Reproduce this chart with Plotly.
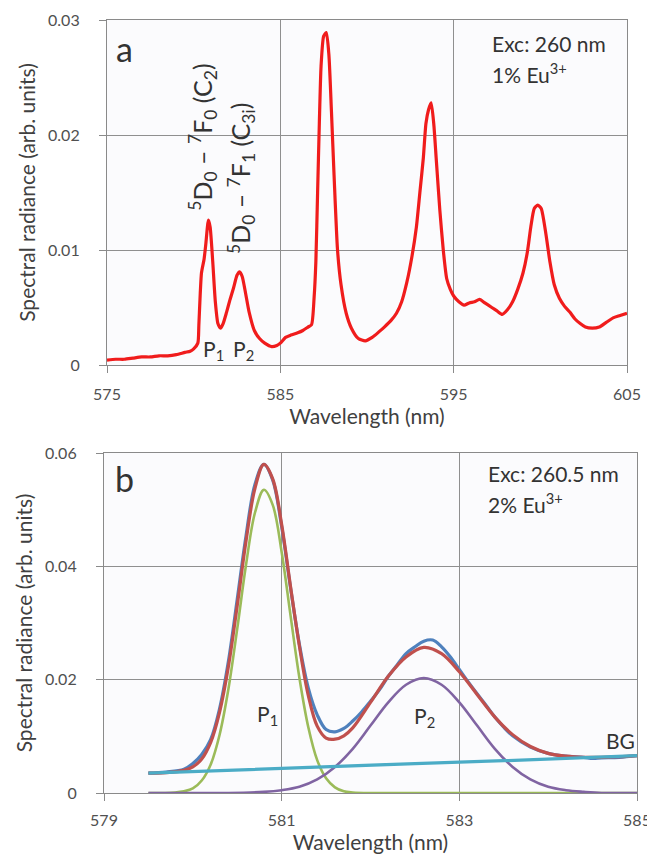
import plotly.graph_objects as go

# ---- Panel a: emission spectrum (1% Eu3+, exc 260 nm) ----
wl_a = [575.0, 575.5, 576.0, 576.5, 577.0, 577.5, 578.0, 578.5, 579.0, 579.5, 579.8, 580.0,
        580.24, 580.3, 580.45, 580.6, 580.7, 580.85, 580.95, 581.1, 581.25, 581.4, 581.55,
        581.7, 581.9, 582.1, 582.3, 582.5, 582.65, 582.8, 583.0, 583.2, 583.5, 583.8, 584.1,
        584.5, 584.8, 585.0, 585.3, 585.6, 586.0, 586.3, 586.6, 586.8, 586.95, 587.05, 587.15,
        587.25, 587.35, 587.5, 587.65, 587.8, 587.95, 588.1, 588.3, 588.5, 588.8, 589.1, 589.5,
        589.9, 590.3, 590.7, 591.0, 591.4, 591.7, 592.0, 592.3, 592.6, 592.85, 593.05, 593.25,
        593.4, 593.55, 593.7, 593.85, 594.0, 594.2, 594.4, 594.6, 594.8, 595.0, 595.3, 595.6,
        595.9, 596.2, 596.5, 596.8, 597.2, 597.5, 597.8, 598.1, 598.4, 598.7, 599.0, 599.25,
        599.45, 599.65, 599.85, 600.05, 600.3, 600.55, 600.8, 601.1, 601.4, 601.7, 602.0,
        602.3, 602.6, 603.0, 603.4, 603.8, 604.2, 604.6, 605.0]
rad_a = [0.00043, 0.0005, 0.0005, 0.0006, 0.0007, 0.0007, 0.0008, 0.0008, 0.0009, 0.0011, 0.0012, 0.0014,
         0.0019, 0.0035, 0.0080, 0.0092, 0.0105, 0.0126, 0.0120, 0.0090, 0.0055, 0.0036, 0.0032,
         0.0036, 0.0046, 0.0057, 0.0067, 0.0078, 0.0081, 0.0077, 0.0062, 0.0046, 0.0030, 0.0023, 0.0019,
         0.0016, 0.0017, 0.0019, 0.0024, 0.0026, 0.0028, 0.0030, 0.0033, 0.0035, 0.0059, 0.0090, 0.0150,
         0.0210, 0.0260, 0.0286, 0.0289, 0.0270, 0.0220, 0.0165, 0.0100, 0.0070, 0.0045, 0.0032, 0.0023,
         0.0021, 0.0024, 0.0029, 0.0033, 0.0039, 0.0045, 0.0055, 0.0072, 0.0095, 0.0120, 0.0150, 0.0180,
         0.0210, 0.0222, 0.0228, 0.0210, 0.0178, 0.0135, 0.0100, 0.0075, 0.0066, 0.0060, 0.0055, 0.0052,
         0.0054, 0.0055, 0.0057, 0.0054, 0.0050, 0.0047, 0.0044, 0.0048, 0.0055, 0.0066, 0.0080, 0.0098,
         0.0120, 0.0136, 0.0139, 0.0136, 0.0116, 0.0090, 0.0070, 0.0058, 0.0051, 0.0046, 0.0040,
         0.0036, 0.0033, 0.0032, 0.0033, 0.0037, 0.0041, 0.0043, 0.0045]

# ---- Panel b: P1/P2 fit (2% Eu3+, exc 260.5 nm) ----
wl_meas = [579.5, 579.7, 579.9, 580.0, 580.1, 580.2, 580.3, 580.4, 580.5, 580.6, 580.7, 580.8,
           580.9, 581.0, 581.1, 581.2, 581.3, 581.4, 581.5, 581.6, 581.7, 581.8, 581.9, 582.0,
           582.1, 582.2, 582.3, 582.4, 582.5, 582.6, 582.7, 582.8, 582.9, 583.0, 583.1, 583.2,
           583.3, 583.4, 583.5, 583.6, 583.8, 584.0, 584.2, 584.4, 584.5, 584.6, 584.8, 585.0]
rad_meas = [0.0035, 0.0037, 0.0042, 0.0052, 0.0068, 0.0094, 0.0148, 0.0232, 0.0342, 0.0455, 0.0545, 0.0580,
            0.0552, 0.0470, 0.0362, 0.0262, 0.0185, 0.0138, 0.0112, 0.0108, 0.0114, 0.0127, 0.0143, 0.0162,
            0.0182, 0.0206, 0.0226, 0.0246, 0.0258, 0.0268, 0.0270, 0.0258, 0.0240, 0.0218, 0.0196, 0.0175,
            0.0155, 0.0134, 0.0116, 0.0101, 0.0081, 0.0070, 0.0065, 0.0063, 0.0061, 0.0062, 0.0063, 0.0066]

wl_fit = [579.5, 579.7, 579.9, 580.0, 580.1, 580.2, 580.3, 580.4, 580.5, 580.6, 580.7, 580.8,
          580.9, 581.0, 581.1, 581.2, 581.3, 581.4, 581.5, 581.6, 581.7, 581.8, 582.0, 582.2,
          582.4, 582.6, 582.8, 583.0, 583.2, 583.4, 583.6, 583.8, 584.0, 584.2, 584.4, 584.6,
          584.8, 585.0]
rad_fit = [0.0035, 0.0036, 0.0040, 0.0046, 0.0060, 0.0089, 0.0142, 0.0223, 0.0331, 0.0446, 0.0538, 0.0580,
           0.0554, 0.0474, 0.0364, 0.0259, 0.0172, 0.0118, 0.0097, 0.0095, 0.0101, 0.0115, 0.0160, 0.0206,
           0.0240, 0.0257, 0.0246, 0.0214, 0.0174, 0.0134, 0.0103, 0.0082, 0.0070, 0.0065, 0.0063, 0.0063,
           0.0064, 0.0066]

wl_p1 = [579.5, 579.8, 579.9, 580.0, 580.1, 580.2, 580.3, 580.4, 580.5, 580.6, 580.7, 580.8,
         580.9, 581.0, 581.1, 581.2, 581.3, 581.4, 581.5, 581.6, 581.7, 581.8, 582.0, 583.0,
         584.0, 585.0]
rad_p1 = [0.0, 0.0001, 0.0003, 0.0008, 0.0022, 0.0050, 0.0102, 0.0183, 0.0290, 0.0404, 0.0495, 0.0535,
          0.0508, 0.0425, 0.0313, 0.0203, 0.0116, 0.0058, 0.0026, 0.0010, 0.0003, 0.0001, 0.0, 0.0,
          0.0, 0.0]

wl_p2 = [579.5, 580.0, 580.4, 580.8, 581.0, 581.2, 581.4, 581.6, 581.8, 582.0, 582.2, 582.4,
         582.6, 582.8, 583.0, 583.2, 583.4, 583.6, 583.8, 584.0, 584.2, 584.4, 584.6, 585.0]
rad_p2 = [0.0, 0.0, 0.0, 0.0002, 0.0005, 0.0011, 0.0024, 0.0046, 0.0078, 0.0119, 0.0160, 0.0191,
          0.0203, 0.0191, 0.0160, 0.0119, 0.0078, 0.0046, 0.0024, 0.0011, 0.0005, 0.0002, 0.0, 0.0]

wl_bg = [579.5, 580.5, 581.5, 582.5, 583.5, 584.5, 585.0]
rad_bg = [0.0035, 0.0041, 0.0046, 0.0052, 0.0057, 0.0063, 0.0066]

FONT = "Lato"
W, H = 655, 857
OFF = 8  # page body margin offset


def xdom(a, b):
    return [(a - OFF) / W, (b - OFF) / W]


def ydom(top, bottom):
    return [1 - (bottom - OFF) / H, 1 - (top - OFF) / H]


fig = go.Figure()

fig.add_trace(go.Scatter(x=wl_a, y=rad_a, mode="lines",
                         line=dict(color="#f01c1c", width=3.2, shape="spline", smoothing=0.6),
                         xaxis="x", yaxis="y", showlegend=False))

fig.add_trace(go.Scatter(x=wl_p1, y=rad_p1, mode="lines", line=dict(color="#9bbb59", width=2.6, shape="spline"),
                         xaxis="x2", yaxis="y2", showlegend=False))
fig.add_trace(go.Scatter(x=wl_p2, y=rad_p2, mode="lines", line=dict(color="#8064a2", width=2.6, shape="spline"),
                         xaxis="x2", yaxis="y2", showlegend=False))
fig.add_trace(go.Scatter(x=wl_meas, y=rad_meas, mode="lines", line=dict(color="#4f81bd", width=3.2, shape="spline"),
                         xaxis="x2", yaxis="y2", showlegend=False))
fig.add_trace(go.Scatter(x=wl_fit, y=rad_fit, mode="lines", line=dict(color="#c0504d", width=3.2, shape="spline"),
                         xaxis="x2", yaxis="y2", showlegend=False))
fig.add_trace(go.Scatter(x=wl_bg, y=rad_bg, mode="lines", line=dict(color="#4bacc6", width=3.2),
                         xaxis="x2", yaxis="y2", showlegend=False))

axis_common = dict(showline=True, linecolor="#8a8a8a", linewidth=1.2, mirror=True,
                   showgrid=True, gridcolor="#8f8f8f", gridwidth=1.2, zeroline=False,
                   ticks="outside", ticklen=7, tickcolor="#8a8a8a", tickwidth=1.2, automargin=False,
                   tickfont=dict(family=FONT, size=16, color="#505050"))
title_font = dict(family=FONT, size=21, color="#404040")

fig.update_layout(
    width=W, height=H,
    margin=dict(l=0, r=0, t=0, b=0),
    paper_bgcolor="#ffffff", plot_bgcolor="#fbfbfd",
    xaxis=dict(domain=xdom(107, 627), range=[575, 605], tickvals=[575, 585, 595, 605],
               anchor="y", ticklabelstandoff=8,
               title=dict(text="Wavelength (nm)", font=title_font, standoff=2), **axis_common),
    yaxis=dict(domain=ydom(20, 365), range=[0, 0.03], tickvals=[0, 0.01, 0.02, 0.03],
               ticktext=["0", "0.01", "0.02", "0.03"], anchor="x", ticklabelstandoff=16,
               title=dict(text="Spectral radiance (arb. units)", font=title_font, standoff=6), **axis_common),
    xaxis2=dict(domain=xdom(104, 637), range=[579, 585], tickvals=[579, 581, 583, 585],
                anchor="y2", ticklabelstandoff=6,
                title=dict(text="Wavelength (nm)", font=title_font, standoff=2), **axis_common),
    yaxis2=dict(domain=ydom(453, 793), range=[0, 0.06], tickvals=[0, 0.02, 0.04, 0.06],
                ticktext=["0", "0.02", "0.04", "0.06"], anchor="x2", ticklabelstandoff=16,
                title=dict(text="Spectral radiance (arb. units)", font=title_font, standoff=6), **axis_common),
)

ann_font = dict(family=FONT, size=21, color="#333333")
rot_font = dict(family=FONT, size=25, color="#333333")
anns = [
    dict(text="a", x=575.4, y=0.0275, xref="x", yref="y", xanchor="left", yanchor="middle",
         font=dict(family=FONT, size=34, color="#333333")),
    dict(text="Exc: 260 nm", x=597.1, y=0.0280, xref="x", yref="y", xanchor="left", yanchor="middle", font=ann_font),
    dict(text="1% Eu<sup>3+</sup>", x=597.1, y=0.0254, xref="x", yref="y", xanchor="left", yanchor="middle", font=ann_font),
    dict(text="<sup>5</sup>D<sub>0</sub> \u2013 <sup>7</sup>F<sub>0</sub> (C<sub>2</sub>)", x=580.5, y=0.0198,
         xref="x", yref="y", textangle=-90, xanchor="center", yanchor="middle", font=rot_font),
    dict(text="<sup>5</sup>D<sub>0</sub> \u2013 <sup>7</sup>F<sub>1</sub> (C<sub>3i</sub>)", x=582.75, y=0.0162,
         xref="x", yref="y", textangle=-90, xanchor="center", yanchor="middle", font=rot_font),
    dict(text="P<sub>1</sub>", x=581.15, y=0.0013, xref="x", yref="y", xanchor="center", yanchor="middle", font=ann_font),
    dict(text="P<sub>2</sub>", x=582.85, y=0.0013, xref="x", yref="y", xanchor="center", yanchor="middle", font=ann_font),
    dict(text="b", x=579.1, y=0.0555, xref="x2", yref="y2", xanchor="left", yanchor="middle",
         font=dict(family=FONT, size=34, color="#333333")),
    dict(text="Exc: 260.5 nm", x=583.3, y=0.0564, xref="x2", yref="y2", xanchor="left", yanchor="middle", font=ann_font),
    dict(text="2% Eu<sup>3+</sup>", x=583.3, y=0.0511, xref="x2", yref="y2", xanchor="left", yanchor="middle", font=ann_font),
    dict(text="P<sub>1</sub>", x=580.84, y=0.0138, xref="x2", yref="y2", xanchor="center", yanchor="middle", font=ann_font),
    dict(text="P<sub>2</sub>", x=582.61, y=0.0134, xref="x2", yref="y2", xanchor="center", yanchor="middle", font=ann_font),
    dict(text="BG", x=585.0, y=0.0092, xref="x2", yref="y2", xanchor="right", yanchor="middle", font=ann_font),
]
for a in anns:
    a["showarrow"] = False
fig.update_layout(annotations=anns)

fig.write_html("out.html")
